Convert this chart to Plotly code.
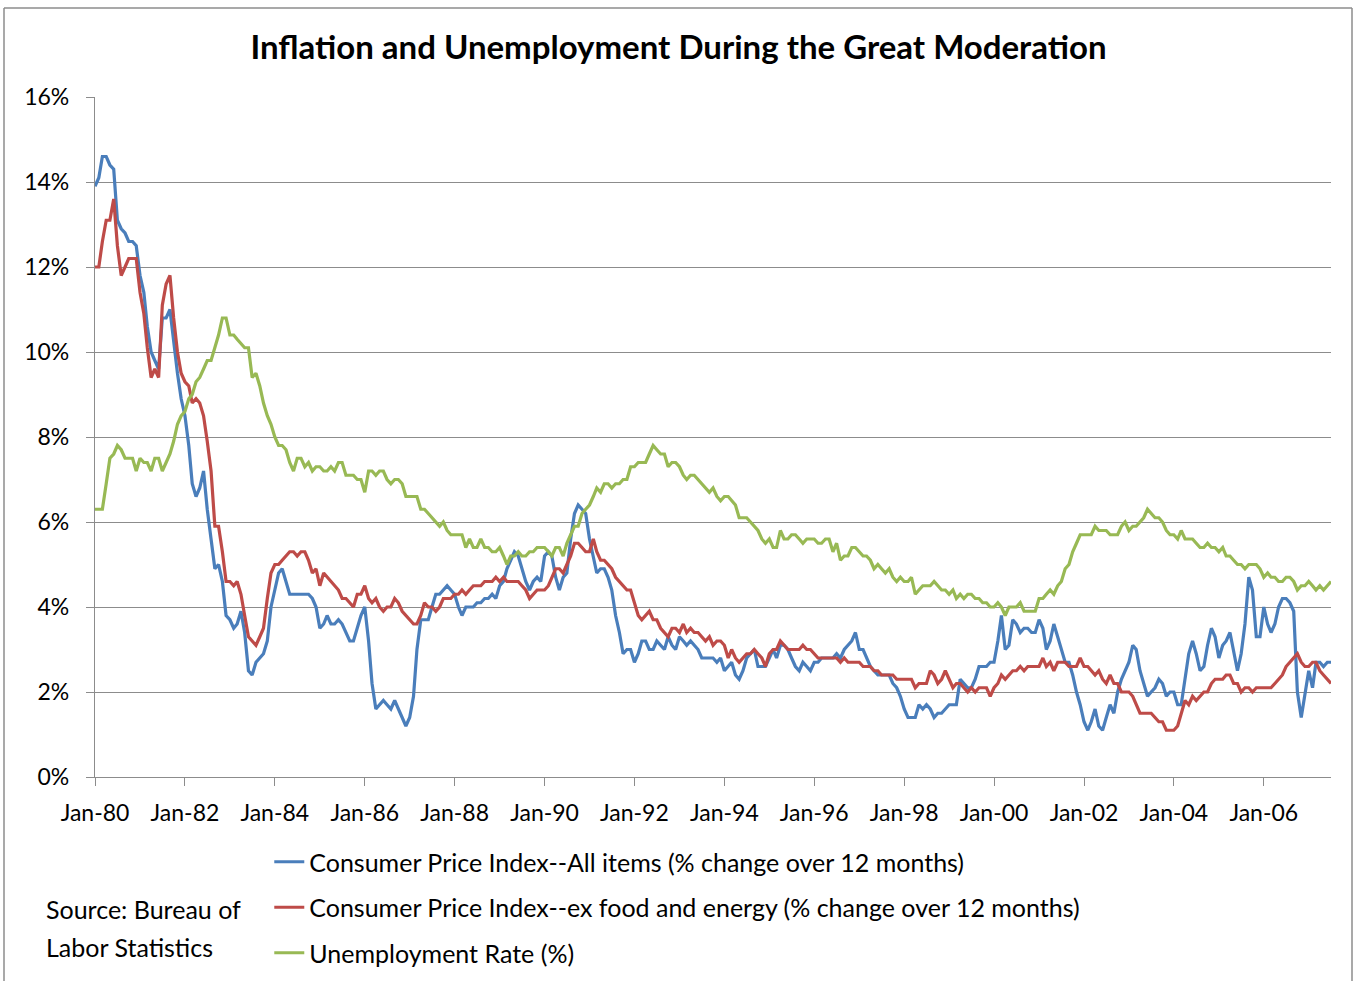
import pandas as pd
import plotly.graph_objects as go

# monthly values, Jan-1980 .. Jul-2007 (% change over 12 months / rate in %)
cpi_all = [
    13.9, 14.1, 14.6, 14.6, 14.4, 14.3, 13.1, 12.9, 12.8, 12.6, 12.6, 12.5,
    11.8, 11.4, 10.6, 10.0, 9.8, 9.6, 10.8, 10.8, 11.0, 10.2, 9.5, 8.9,
    8.5, 7.8, 6.9, 6.6, 6.8, 7.2, 6.3, 5.6, 4.9, 5.0, 4.6, 3.8,
    3.7, 3.5, 3.6, 3.9, 3.4, 2.5, 2.4, 2.7, 2.8, 2.9, 3.2, 4.0,
    4.4, 4.8, 4.9, 4.6, 4.3, 4.3, 4.3, 4.3, 4.3, 4.3, 4.2, 4.0,
    3.5, 3.6, 3.8, 3.6, 3.6, 3.7, 3.6, 3.4, 3.2, 3.2, 3.5, 3.8,
    4.0, 3.2, 2.2, 1.6, 1.7, 1.8, 1.7, 1.6, 1.8, 1.6, 1.4, 1.2,
    1.4, 1.9, 3.0, 3.7, 3.7, 3.7, 4.0, 4.3, 4.3, 4.4, 4.5, 4.4,
    4.3, 4.0, 3.8, 4.0, 4.0, 4.0, 4.1, 4.1, 4.2, 4.2, 4.3, 4.2,
    4.5, 4.6, 4.9, 5.1, 5.3, 5.2, 4.9, 4.6, 4.4, 4.6, 4.7, 4.6,
    5.2, 5.3, 5.2, 4.7, 4.4, 4.7, 4.8, 5.6, 6.2, 6.4, 6.3, 6.2,
    5.6, 5.2, 4.8, 4.9, 4.9, 4.7, 4.4, 3.8, 3.4, 2.9, 3.0, 3.0,
    2.7, 2.9, 3.2, 3.2, 3.0, 3.0, 3.2, 3.1, 3.0, 3.3, 3.1, 3.0,
    3.3, 3.2, 3.1, 3.2, 3.1, 3.0, 2.8, 2.8, 2.8, 2.8, 2.7, 2.8,
    2.5, 2.6, 2.7, 2.4, 2.3, 2.5, 2.8, 2.9, 3.0, 2.6, 2.6, 2.6,
    2.8, 3.0, 2.8, 3.1, 3.1, 3.0, 2.8, 2.6, 2.5, 2.7, 2.6, 2.5,
    2.7, 2.7, 2.8, 2.8, 2.8, 2.8, 2.9, 2.8, 3.0, 3.1, 3.2, 3.4,
    3.0, 3.0, 2.8, 2.6, 2.5, 2.4, 2.4, 2.4, 2.4, 2.2, 2.1, 1.9,
    1.6, 1.4, 1.4, 1.4, 1.7, 1.6, 1.7, 1.6, 1.4, 1.5, 1.5, 1.6,
    1.7, 1.7, 1.7, 2.3, 2.2, 2.1, 2.1, 2.3, 2.6, 2.6, 2.6, 2.7,
    2.7, 3.2, 3.8, 3.0, 3.1, 3.7, 3.6, 3.4, 3.5, 3.5, 3.4, 3.4,
    3.7, 3.5, 3.0, 3.2, 3.6, 3.3, 3.0, 2.7, 2.7, 2.4, 2.0, 1.7,
    1.3, 1.1, 1.3, 1.6, 1.2, 1.1, 1.4, 1.7, 1.5, 2.0, 2.3, 2.5,
    2.7, 3.1, 3.0, 2.5, 2.2, 1.9, 2.0, 2.1, 2.3, 2.2, 1.9, 2.0,
    2.0, 1.7, 1.7, 2.3, 2.9, 3.2, 2.9, 2.5, 2.6, 3.1, 3.5, 3.3,
    2.8, 3.1, 3.2, 3.4, 3.0, 2.5, 2.9, 3.6, 4.7, 4.4, 3.3, 3.3,
    4.0, 3.6, 3.4, 3.6, 4.0, 4.2, 4.2, 4.1, 3.9, 2.0, 1.4, 2.0,
    2.5, 2.1, 2.7, 2.7, 2.6, 2.7, 2.7,
]

cpi_core = [
    12.0, 12.0, 12.6, 13.1, 13.1, 13.6, 12.5, 11.8, 12.0, 12.2, 12.2, 12.2,
    11.4, 10.9, 10.1, 9.4, 9.6, 9.4, 11.1, 11.6, 11.8, 10.8, 10.0, 9.5,
    9.3, 9.2, 8.8, 8.9, 8.8, 8.5, 7.9, 7.2, 5.9, 5.9, 5.3, 4.6,
    4.6, 4.5, 4.6, 4.3, 3.8, 3.3, 3.2, 3.1, 3.3, 3.5, 4.2, 4.8,
    5.0, 5.0, 5.1, 5.2, 5.3, 5.3, 5.2, 5.3, 5.3, 5.1, 4.8, 4.9,
    4.5, 4.8, 4.7, 4.6, 4.5, 4.4, 4.2, 4.2, 4.1, 4.0, 4.3, 4.3,
    4.5, 4.2, 4.1, 4.2, 4.0, 3.9, 4.0, 4.0, 4.2, 4.1, 3.9, 3.8,
    3.7, 3.6, 3.6, 3.8, 4.1, 4.0, 4.0, 3.9, 4.0, 4.2, 4.2, 4.2,
    4.3, 4.3, 4.4, 4.3, 4.4, 4.5, 4.5, 4.5, 4.6, 4.6, 4.6, 4.7,
    4.6, 4.7, 4.6, 4.6, 4.6, 4.6, 4.5, 4.4, 4.2, 4.3, 4.4, 4.4,
    4.4, 4.5, 4.7, 4.9, 4.9, 4.8, 5.0, 5.2, 5.5, 5.5, 5.4, 5.3,
    5.3, 5.6, 5.3, 5.1, 5.1, 5.0, 4.9, 4.7, 4.6, 4.5, 4.4, 4.4,
    4.1, 3.8, 3.7, 3.8, 3.9, 3.7, 3.7, 3.5, 3.4, 3.3, 3.5, 3.5,
    3.4, 3.6, 3.4, 3.5, 3.4, 3.4, 3.3, 3.2, 3.3, 3.1, 3.2, 3.2,
    3.1, 2.8, 3.0, 2.8, 2.7, 2.8, 2.9, 2.9, 3.0, 2.9, 2.8, 2.6,
    2.9, 3.0, 3.0, 3.2, 3.1, 3.0, 3.0, 3.0, 3.0, 3.1, 3.0, 3.0,
    2.9, 2.8, 2.8, 2.8, 2.8, 2.8, 2.8, 2.7, 2.8, 2.7, 2.7, 2.7,
    2.7, 2.6, 2.6, 2.6, 2.5, 2.5, 2.4, 2.4, 2.4, 2.4, 2.3, 2.3,
    2.3, 2.3, 2.3, 2.1, 2.2, 2.2, 2.2, 2.5, 2.4, 2.2, 2.3, 2.5,
    2.3, 2.1, 2.2, 2.2, 2.1, 2.0, 2.1, 2.0, 2.1, 2.1, 2.1, 1.9,
    2.1, 2.2, 2.4, 2.3, 2.4, 2.5, 2.5, 2.6, 2.5, 2.6, 2.6, 2.6,
    2.6, 2.8, 2.6, 2.7, 2.5, 2.7, 2.7, 2.7, 2.6, 2.6, 2.6, 2.8,
    2.6, 2.6, 2.5, 2.4, 2.5, 2.3, 2.2, 2.4, 2.2, 2.2, 2.0, 2.0,
    2.0, 1.9, 1.7, 1.5, 1.5, 1.5, 1.5, 1.4, 1.3, 1.3, 1.1, 1.1,
    1.1, 1.2, 1.5, 1.8, 1.7, 1.9, 1.8, 1.9, 2.0, 2.0, 2.2, 2.3,
    2.3, 2.3, 2.4, 2.4, 2.2, 2.2, 2.0, 2.1, 2.1, 2.0, 2.1, 2.1,
    2.1, 2.1, 2.1, 2.2, 2.3, 2.4, 2.6, 2.7, 2.8, 2.9, 2.7, 2.6,
    2.6, 2.7, 2.7, 2.5, 2.4, 2.3, 2.2,
]

unemployment = [
    6.3, 6.3, 6.3, 6.9, 7.5, 7.6, 7.8, 7.7, 7.5, 7.5, 7.5, 7.2,
    7.5, 7.4, 7.4, 7.2, 7.5, 7.5, 7.2, 7.4, 7.6, 7.9, 8.3, 8.5,
    8.6, 8.9, 9.0, 9.3, 9.4, 9.6, 9.8, 9.8, 10.1, 10.4, 10.8, 10.8,
    10.4, 10.4, 10.3, 10.2, 10.1, 10.1, 9.4, 9.5, 9.2, 8.8, 8.5, 8.3,
    8.0, 7.8, 7.8, 7.7, 7.4, 7.2, 7.5, 7.5, 7.3, 7.4, 7.2, 7.3,
    7.3, 7.2, 7.2, 7.3, 7.2, 7.4, 7.4, 7.1, 7.1, 7.1, 7.0, 7.0,
    6.7, 7.2, 7.2, 7.1, 7.2, 7.2, 7.0, 6.9, 7.0, 7.0, 6.9, 6.6,
    6.6, 6.6, 6.6, 6.3, 6.3, 6.2, 6.1, 6.0, 5.9, 6.0, 5.8, 5.7,
    5.7, 5.7, 5.7, 5.4, 5.6, 5.4, 5.4, 5.6, 5.4, 5.4, 5.3, 5.3,
    5.4, 5.2, 5.0, 5.2, 5.2, 5.3, 5.2, 5.2, 5.3, 5.3, 5.4, 5.4,
    5.4, 5.3, 5.2, 5.4, 5.4, 5.2, 5.5, 5.7, 5.9, 5.9, 6.2, 6.3,
    6.4, 6.6, 6.8, 6.7, 6.9, 6.9, 6.8, 6.9, 6.9, 7.0, 7.0, 7.3,
    7.3, 7.4, 7.4, 7.4, 7.6, 7.8, 7.7, 7.6, 7.6, 7.3, 7.4, 7.4,
    7.3, 7.1, 7.0, 7.1, 7.1, 7.0, 6.9, 6.8, 6.7, 6.8, 6.6, 6.5,
    6.6, 6.6, 6.5, 6.4, 6.1, 6.1, 6.1, 6.0, 5.9, 5.8, 5.6, 5.5,
    5.6, 5.4, 5.4, 5.8, 5.6, 5.6, 5.7, 5.7, 5.6, 5.5, 5.6, 5.6,
    5.6, 5.5, 5.5, 5.6, 5.6, 5.3, 5.5, 5.1, 5.2, 5.2, 5.4, 5.4,
    5.3, 5.2, 5.2, 5.1, 4.9, 5.0, 4.9, 4.8, 4.9, 4.7, 4.6, 4.7,
    4.6, 4.6, 4.7, 4.3, 4.4, 4.5, 4.5, 4.5, 4.6, 4.5, 4.4, 4.4,
    4.3, 4.4, 4.2, 4.3, 4.2, 4.3, 4.3, 4.2, 4.2, 4.1, 4.1, 4.0,
    4.0, 4.1, 4.0, 3.8, 4.0, 4.0, 4.0, 4.1, 3.9, 3.9, 3.9, 3.9,
    4.2, 4.2, 4.3, 4.4, 4.3, 4.5, 4.6, 4.9, 5.0, 5.3, 5.5, 5.7,
    5.7, 5.7, 5.7, 5.9, 5.8, 5.8, 5.8, 5.7, 5.7, 5.7, 5.9, 6.0,
    5.8, 5.9, 5.9, 6.0, 6.1, 6.3, 6.2, 6.1, 6.1, 6.0, 5.8, 5.7,
    5.7, 5.6, 5.8, 5.6, 5.6, 5.6, 5.5, 5.4, 5.4, 5.5, 5.4, 5.4,
    5.3, 5.4, 5.2, 5.2, 5.1, 5.0, 5.0, 4.9, 5.0, 5.0, 5.0, 4.9,
    4.7, 4.8, 4.7, 4.7, 4.6, 4.6, 4.7, 4.7, 4.6, 4.4, 4.5, 4.5,
    4.6, 4.5, 4.4, 4.5, 4.4, 4.5, 4.6,
]

months = pd.date_range("1980-01-01", periods=len(cpi_all), freq="MS")

FONT = "Lato, Arial, sans-serif"
GRID = "#8c8c8c"

fig = go.Figure()
series = [
    ("Consumer Price Index--All items (% change over 12 months)", cpi_all, "#4a7ebb"),
    ("Consumer Price Index--ex food and energy (% change over 12 months)", cpi_core, "#be4b48"),
    ("Unemployment Rate (%)", unemployment, "#98b954"),
]
for i, (name, vals, col) in enumerate(series):
    fig.add_scatter(x=months, y=vals, mode="lines", name=name, legendgroup=str(i),
                    line=dict(color=col, width=3.2))

fig.update_layout(
    width=1357, height=981,
    margin=dict(l=95, r=26, t=97, b=204),
    paper_bgcolor="white", plot_bgcolor="white",
    font=dict(family=FONT, size=23, color="black"),
    title=dict(text="<b>Inflation and Unemployment During the Great Moderation</b>",
               x=0.5, xanchor="center", y=0.952, yanchor="middle",
               font=dict(family=FONT, size=33, color="black")),
    showlegend=True,
    legend=dict(x=0.141, xref="paper", y=(981 - 839) / 981, yref="container",
                xanchor="left", yanchor="top",
                orientation="v", tracegroupgap=10, bgcolor="rgba(0,0,0,0)",
                font=dict(family=FONT, size=25, color="black")),
)

fig.update_xaxes(
    range=[months[0], months[-1]], type="date",
    tick0="1980-01-01", dtick="M24", tickformat="%b-%y",
    ticks="outside", ticklen=8, tickcolor=GRID, tickwidth=1,
    showline=True, linecolor=GRID, linewidth=1.3,
    showgrid=False, zeroline=False, ticklabelstandoff=7,
    tickfont=dict(family=FONT, size=23, color="black"),
)
fig.update_yaxes(
    range=[0, 16], dtick=2, ticksuffix="%",
    ticks="outside", ticklen=8, tickcolor=GRID,
    showline=True, linecolor=GRID, linewidth=1.3,
    showgrid=True, gridcolor=GRID, gridwidth=1, zeroline=False,
    ticklabelstandoff=12,
    tickfont=dict(family=FONT, size=23, color="black"),
)

fig.add_annotation(text="Source: Bureau of", xref="paper", yref="paper",
                   x=-0.041, y=-0.194, xanchor="left", yanchor="middle",
                   showarrow=False, font=dict(family=FONT, size=25))
fig.add_annotation(text="Labor Statistics", xref="paper", yref="paper",
                   x=-0.041, y=-0.250, xanchor="left", yanchor="middle",
                   showarrow=False, font=dict(family=FONT, size=25))

# chart border (top, left, right; bottom edge is off the canvas)
bx0, bx1 = (4 - 95) / 1236, (1352 - 95) / 1236
by_top, by_bot = (777 - 8) / 680, (777 - 1000) / 680
border = dict(color="#8c8c8c", width=1.5)
fig.add_shape(type="line", xref="paper", yref="paper", x0=bx0, x1=bx1, y0=by_top, y1=by_top, line=border)
fig.add_shape(type="line", xref="paper", yref="paper", x0=bx0, x1=bx0, y0=by_top, y1=by_bot, line=border)
fig.add_shape(type="line", xref="paper", yref="paper", x0=bx1, x1=bx1, y0=by_top, y1=by_bot, line=border)

fig.write_html("out.html", config={"displayModeBar": False},
               post_script="document.body.style.margin='0';")
